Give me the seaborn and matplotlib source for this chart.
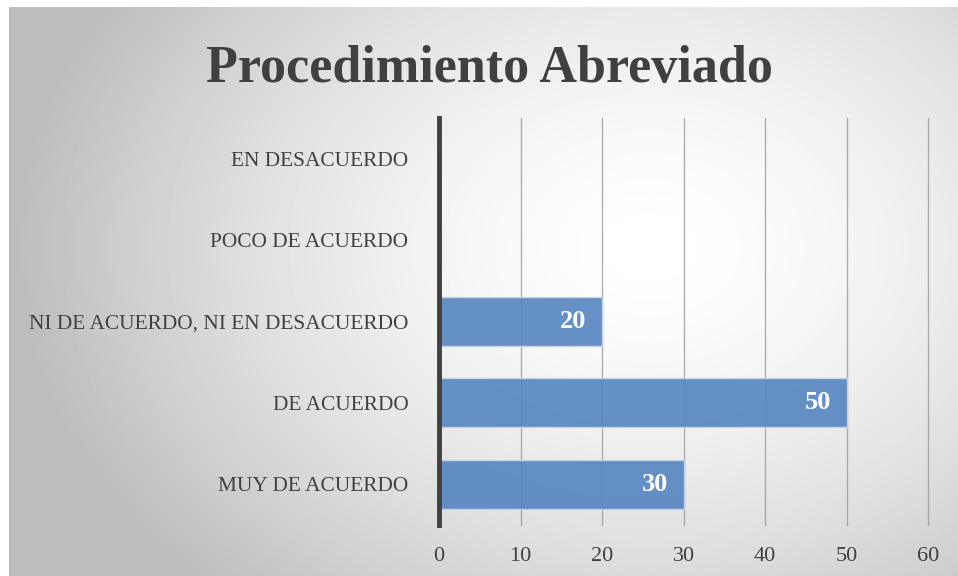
import numpy as np
import pandas as pd
import seaborn as sns
import matplotlib.pyplot as plt

# -------------------- DATOS --------------------
categorias = ["EN DESACUERDO", "POCO DE ACUERDO", "NI DE ACUERDO, NI EN DESACUERDO",
              "DE ACUERDO", "MUY DE ACUERDO"]
valores = [0, 0, 20, 50, 30]
ticks_x = [0, 10, 20, 30, 40, 50, 60]
titulo = "Procedimiento Abreviado"

df = pd.DataFrame({"categoria": categorias, "valor": valores})

sns.set_theme(style="white")
plt.rcParams["font.family"] = ["Liberation Serif", "DejaVu Serif"]

fig = plt.figure(figsize=(9.58, 5.76), dpi=100)

# fondo con degradado radial
bg = fig.add_axes([9 / 958, 0, 949 / 958, 569 / 576], zorder=0)
yy, xx = np.mgrid[0:569, 0:949]
r = np.sqrt(((xx - 640) / 720.0) ** 2 + ((yy - 240) / 540.0) ** 2)
grad = np.clip(1.0 - 0.32 * r ** 1.6, 0.74, 1.0)
bg.imshow(grad, cmap="gray", vmin=0, vmax=1, aspect="auto", interpolation="bilinear")
bg.set_axis_off()

ax = fig.add_axes([439 / 958, 1 - 525 / 576, (928 - 439) / 958, (525 - 118) / 576], zorder=1)
ax.patch.set_alpha(0)

sns.barplot(data=df, y="categoria", x="valor", orient="h", color="#5585C0",
            saturation=1, alpha=0.9, width=0.6, edgecolor="#c9d6e8", linewidth=1.0,
            ax=ax, zorder=2)

ax.set_xlim(0, 60)
ax.set_xticks(ticks_x)
ax.set_xticklabels([str(t) for t in ticks_x], fontsize=16, color="#404040")
ax.tick_params(axis="x", length=0, pad=16)
ax.tick_params(axis="y", length=0, pad=22)
for lbl in ax.get_yticklabels():
    lbl.set_fontsize(15.4)
    lbl.set_color("#404040")
ax.set_xlabel("")
ax.set_ylabel("")
for t in ticks_x[1:]:
    ax.axvline(t, color="#9a9a9a", linewidth=1, alpha=0.8, zorder=1, clip_on=False)
for s in ["top", "right", "bottom"]:
    ax.spines[s].set_visible(False)
ax.spines["left"].set_color("#404040")
ax.spines["left"].set_linewidth(3.5)
ax.spines["left"].set_zorder(3)

for i, v in enumerate(valores):
    if v > 0:
        ax.text(v - 1.9, i, str(v), ha="right", va="center", color="white",
                fontsize=19, fontweight="bold", zorder=4)

fig.text(490 / 958, 1 - 82 / 576, titulo, ha="center", va="baseline",
         fontsize=37.5, fontweight="bold", color="#404040")

fig.savefig("out.png", dpi=100, facecolor="white")
